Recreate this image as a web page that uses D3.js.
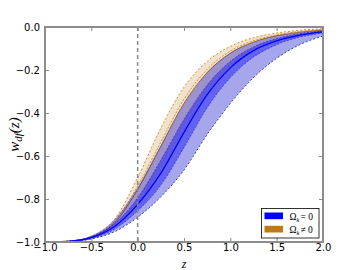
<!DOCTYPE html>
<html>
<head>
<meta charset="utf-8">
<script src="https://cdn.jsdelivr.net/npm/d3@7"></script>
<style>
  body { margin: 0; background: #fff; }
  svg text { font-family: "DejaVu Sans", sans-serif; }
</style>
</head>
<body>
<div id="chart"></div>
<script>
// redshift nodes
var zs = [-1.0, -0.75, -0.5, -0.25, 0.0, 0.25, 0.5, 0.75, 1.0, 1.25, 1.5, 1.75, 2.0];

// Omega_k != 0 (orange): 2 sigma upper/lower, 1 sigma upper, mean
var okHi2 = [-1.0, -0.997, -0.975, -0.895, -0.70, -0.47, -0.28, -0.16, -0.09, -0.05, -0.028, -0.015, -0.008];
var okHi1 = [-1.0, -0.996, -0.975, -0.905, -0.74, -0.535, -0.335, -0.197, -0.112, -0.064, -0.037, -0.021, -0.012];
var okMean = [-1.0, -0.996, -0.977, -0.912, -0.755, -0.555, -0.355, -0.212, -0.122, -0.07, -0.041, -0.024, -0.014];
var okLo2 = [-1.0, -0.997, -0.982, -0.93, -0.825, -0.67, -0.48, -0.31, -0.19, -0.11, -0.065, -0.038, -0.023];

// Omega_k = 0 (blue)
var flHi2 = [-1.0, -0.995, -0.97, -0.895, -0.745, -0.55, -0.355, -0.21, -0.12, -0.07, -0.04, -0.024, -0.014];
var flHi1 = [-1.0, -0.996, -0.976, -0.915, -0.795, -0.62, -0.43, -0.27, -0.16, -0.093, -0.054, -0.031, -0.018];
var flMean = [-1.0, -0.997, -0.98, -0.928, -0.825, -0.68, -0.49, -0.315, -0.19, -0.11, -0.065, -0.038, -0.023];
var flLo1 = [-1.0, -0.998, -0.984, -0.94, -0.855, -0.735, -0.56, -0.375, -0.235, -0.14, -0.082, -0.047, -0.028];
var flLo2 = [-1.0, -0.998, -0.986, -0.952, -0.885, -0.79, -0.665, -0.50, -0.355, -0.235, -0.145, -0.082, -0.042];

var xTicks = [-1.0, -0.5, 0.0, 0.5, 1.0, 1.5, 2.0];
var yTicks = [0.0, -0.2, -0.4, -0.6, -0.8, -1.0];

var orange = "#c07a12", blue = "#0000ff";

var margin = {top: 27, right: 37, bottom: 28, left: 45},
    width = 360 - margin.left - margin.right,
    height = 270 - margin.top - margin.bottom;

var svg = d3.select("#chart").append("svg")
    .attr("width", 360)
    .attr("height", 270);

var g = svg.append("g")
    .attr("transform", "translate(" + margin.left + "," + margin.top + ")");

var x = d3.scaleLinear().domain([-1, 2]).range([0, width]);
var y = d3.scaleLinear().domain([-1, 0]).range([height, 0]);

function rows(hi, lo) {
    return zs.map(function(z, i) { return {z: z, hi: hi[i], lo: lo[i]}; });
}
function pts(vals) {
    return zs.map(function(z, i) { return {z: z, w: vals[i]}; });
}

var area = d3.area()
    .curve(d3.curveMonotoneX)
    .x(function(d) { return x(d.z); })
    .y0(function(d) { return y(d.lo); })
    .y1(function(d) { return y(d.hi); });

var line = d3.line()
    .curve(d3.curveMonotoneX)
    .x(function(d) { return x(d.z); })
    .y(function(d) { return y(d.w); });

var plot = g.append("g");

function edge(vals, color, w, dash) {
    plot.append("path").attr("d", line(pts(vals)))
        .attr("fill", "none").attr("stroke", color).attr("stroke-width", w)
        .attr("stroke-dasharray", dash);
}

// orange (drawn first)
plot.append("path").attr("d", area(rows(okHi2, okLo2)))
    .attr("fill", orange).attr("fill-opacity", 0.22);
edge(okHi2, orange, 0.8, "2,2");
edge(okHi1, orange, 0.8, "2,1.5");
edge(okMean, orange, 1, null);

// blue on top
plot.append("path").attr("d", area(rows(flHi2, flLo2)))
    .attr("fill", "#0000c8").attr("fill-opacity", 0.35);
plot.append("path").attr("d", area(rows(flHi1, flLo1)))
    .attr("fill", blue).attr("fill-opacity", 0.4);
edge(flLo2, "#1c1c90", 0.8, "2,2");
edge(flHi1, "#2020e0", 0.7, "2,1.5");
edge(flLo1, "#2020e0", 0.7, "2,1.5");
edge(flMean, blue, 1.3, null);

// vertical dashed line at z = 0
g.append("line")
    .attr("x1", x(0)).attr("x2", x(0))
    .attr("y1", 0).attr("y2", height)
    .attr("stroke", "#888").attr("stroke-width", 1.5)
    .attr("stroke-dasharray", "4,3");

// axes (ticks inside, on all sides)
var axisColor = "#8c8c8c";
function styleAxis(sel) {
    sel.select(".domain").remove();
    sel.selectAll(".tick line").attr("stroke", axisColor).attr("stroke-width", 1);
    sel.selectAll(".tick text").attr("fill", "#000").style("font-size", "10px");
}
var fmt = function(d) { return d3.format(".1f")(d).replace("-", "\u2212"); };

g.append("g").attr("transform", "translate(0," + height + ")")
    .call(d3.axisBottom(x).tickValues(xTicks).tickFormat(fmt).tickSizeInner(-4).tickSizeOuter(0).tickPadding(2))
    .call(styleAxis);
g.append("g")
    .call(d3.axisTop(x).tickValues(xTicks).tickFormat("").tickSizeInner(-4).tickSizeOuter(0))
    .call(styleAxis);
g.append("g")
    .call(d3.axisLeft(y).tickValues(yTicks).tickFormat(fmt).tickSizeInner(-4).tickSizeOuter(0).tickPadding(5))
    .call(styleAxis);
g.append("g").attr("transform", "translate(" + width + ",0)")
    .call(d3.axisRight(y).tickValues(yTicks).tickFormat("").tickSizeInner(-4).tickSizeOuter(0))
    .call(styleAxis);

g.append("rect")
    .attr("width", width).attr("height", height)
    .attr("fill", "none").attr("stroke", axisColor).attr("stroke-width", 2);

// axis labels
var serif = "'Liberation Serif', 'DejaVu Serif', serif";
g.append("text")
    .attr("x", width / 2).attr("y", height + 25.5)
    .attr("text-anchor", "middle")
    .style("font-family", serif).style("font-style", "italic").style("font-size", "12px")
    .text("z");

var yl = svg.append("text")
    .attr("transform", "translate(19," + (margin.top + height / 2) + ") rotate(-90)")
    .attr("text-anchor", "middle")
    .style("font-family", serif).style("font-style", "italic").style("font-size", "15px");
yl.append("tspan").text("w");
yl.append("tspan").attr("dy", 3).style("font-size", "11px").text("df");
yl.append("tspan").attr("dy", -3).text("(z)");

// legend
var leg = g.append("g").attr("transform", "translate(" + (width - 61.5) + "," + (height - 33.5) + ")");
leg.append("rect").attr("width", 57.5).attr("height", 29.5)
    .attr("fill", "#fff").attr("stroke", "#000").attr("stroke-width", 0.8);
var items = [{c: blue, t: "= 0"}, {c: orange, t: "\u2260 0"}];
items.forEach(function(d, i) {
    var r = leg.append("g").attr("transform", "translate(3," + (4 + i * 13.3) + ")");
    r.append("rect").attr("width", 18.5).attr("height", 6.7).attr("fill", d.c);
    var t = r.append("text").attr("x", 25).attr("y", 7)
        .style("font-family", serif).style("font-size", "9.5px");
    t.append("tspan").text("\u03a9");
    t.append("tspan").attr("dy", 2).style("font-size", "6.5px").style("font-style", "italic").text("k");
    t.append("tspan").attr("dy", -2).attr("dx", 1).text(d.t);
});
</script>
</body>
</html>
